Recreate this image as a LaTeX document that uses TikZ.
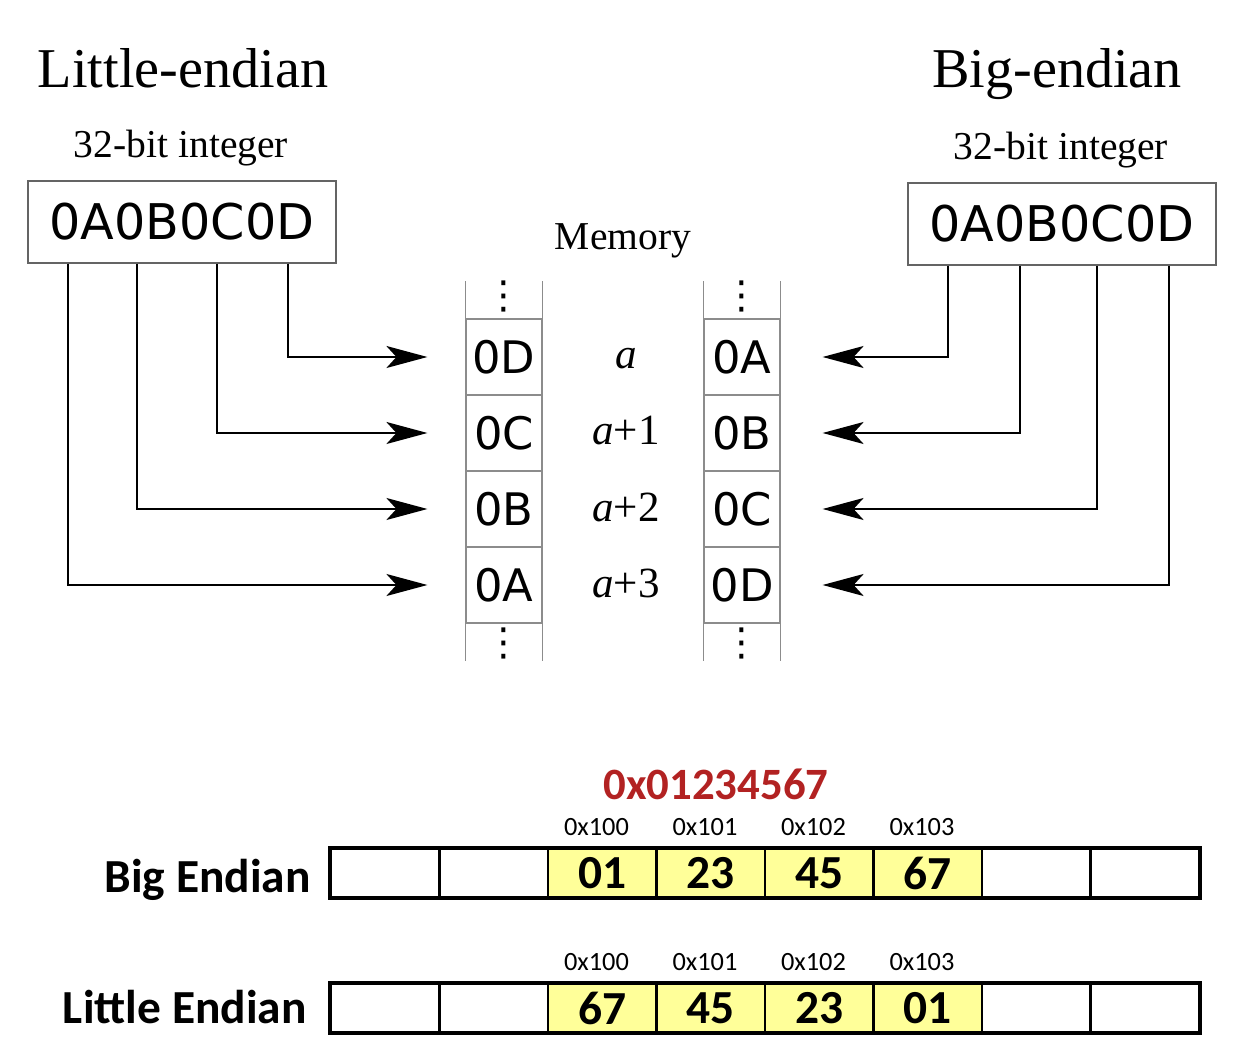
\documentclass[tikz,border=0pt]{standalone}
\usepackage{fontspec}
\setmainfont{Liberation Serif}
\newfontfamily\dejavu{DejaVu Sans}
\newfontfamily\carlito{Carlito}
\usetikzlibrary{arrows.meta,calc}
\definecolor{hexred}{RGB}{178,34,34}
\definecolor{byteyellow}{RGB}{255,255,153}
\definecolor{memgray}{RGB}{140,140,140}
\definecolor{boxgray}{RGB}{100,100,100}
\begin{document}
\begin{tikzpicture}[x=0.02cm, y=-0.02cm,
    intbox/.style={draw=boxgray, line width=0.8pt, minimum width=6.16cm, minimum height=1.64cm, font=\dejavu\fontsize{28}{28}\selectfont},
    memcell/.style={draw=memgray, line width=0.7pt, minimum width=1.52cm, minimum height=1.52cm, inner sep=0pt, font=\dejavu\fontsize{25.5}{25.5}\selectfont},
    arr/.style={line width=1.1pt, -{Stealth[length=0.82cm, width=0.44cm, inset=0.2cm]}},
    bytecell/.style={draw, line width=1.2pt, minimum width=2.17cm, minimum height=0.96cm, inner sep=0pt, font=\carlito\bfseries\fontsize{27}{27}\selectfont},
    rowframe/.style={draw, line width=2.2pt},
    addr/.style={anchor=base, font=\carlito\fontsize{15}{15}\selectfont}]
    \useasboundingbox (0,0) rectangle (1254,1060);
    % titles
    \node[anchor=base, font=\fontsize{32}{32}\selectfont] (ltitle) at (183,88) {Little-endian};
    \node[anchor=base, font=\fontsize{32}{32}\selectfont] (btitle) at (1057,88) {Big-endian};
    \node[anchor=base, font=\fontsize{22.5}{22.5}\selectfont] (lsub) at (181,158) {32-bit integer};
    \node[anchor=base, font=\fontsize{22.5}{22.5}\selectfont] (bsub) at (1061,160) {32-bit integer};
    \node[anchor=base, font=\fontsize{22.5}{22.5}\selectfont] (memlabel) at (623,250) {Memory};
    \node[intbox] (lint) at (182,222) {0A0B0C0D};
    \node[intbox] (bint) at (1062,224) {0A0B0C0D};
    % memory cells
    \foreach[count=\x] \l/\r/\m in {0D/0A/, 0C/0B/+1, 0B/0C/+2, 0A/0D/+3}
    {
        \node[memcell] (lm\x) at (504,281+76*\x) {\l};
        \node[memcell] (rm\x) at (742,281+76*\x) {\r};
        \node[anchor=base, font=\fontsize{24.5}{24.5}\selectfont] (maddr\x) at (626,293+76*\x) {\textit{a}\m};
    }
    \foreach \c in {lm,rm}
    {
        \draw[memgray, line width=0.7pt] (\c1.north west) -- ++(0,-37) (\c1.north east) -- ++(0,-37);
        \draw[memgray, line width=0.7pt] (\c4.south west) -- ++(0,37) (\c4.south east) -- ++(0,37);
        \node[font=\dejavu\fontsize{22}{22}\selectfont] (\c top) at ($(\c1.north)+(0,-22)$) {⋮};
        \node[font=\dejavu\fontsize{22}{22}\selectfont] (\c bot) at ($(\c4.south)+(0,20)$) {⋮};
    }
    % arrows
    \foreach[count=\x] \dx in {106,35,-45,-114}
        \draw[arr, shorten >=0.76cm] ($(lint.south)+(\dx,0)$) |- (lm\x);
    \foreach[count=\x] \dx in {-114,-42,35,107}
        \draw[arr, shorten >=0.84cm] ($(bint.south)+(\dx,0)$) |- (rm\x);
    % byte rows
    \node[anchor=base, text=hexred, font=\carlito\bfseries\fontsize{25.5}{25.5}\selectfont] (value) at (716,799) {0x01234567};
    \node[anchor=base east, inner sep=0pt, font=\carlito\bfseries\fontsize{27}{27}\selectfont] (biglabel) at (311,892) {Big Endian};
    \node[anchor=base east, inner sep=0pt, font=\carlito\bfseries\fontsize{27}{27}\selectfont] (littlelabel) at (307,1023) {Little Endian};
    \foreach \i in {1,...,8}
    {
        \node[bytecell] (big\i) at (276.75+108.5*\i,873) {};
        \node[bytecell] (little\i) at (276.75+108.5*\i,1008) {};
    }
    \foreach[count=\i from 3] \a/\b/\ad in {01/67/100, 23/45/101, 45/23/102, 67/01/103}
    {
        \node[bytecell, fill=byteyellow] (big\i) at (276.75+108.5*\i,873) {\a};
        \node[bytecell, fill=byteyellow] (little\i) at (276.75+108.5*\i,1008) {\b};
        \node[addr] (baddr\i) at (271+108.5*\i,835) {0x\ad};
        \node[addr] (laddr\i) at (271+108.5*\i,970) {0x\ad};
    }
    \draw[rowframe] (big1.north west) rectangle (big8.south east);
    \draw[rowframe] (little1.north west) rectangle (little8.south east);
\end{tikzpicture}
\end{document}
